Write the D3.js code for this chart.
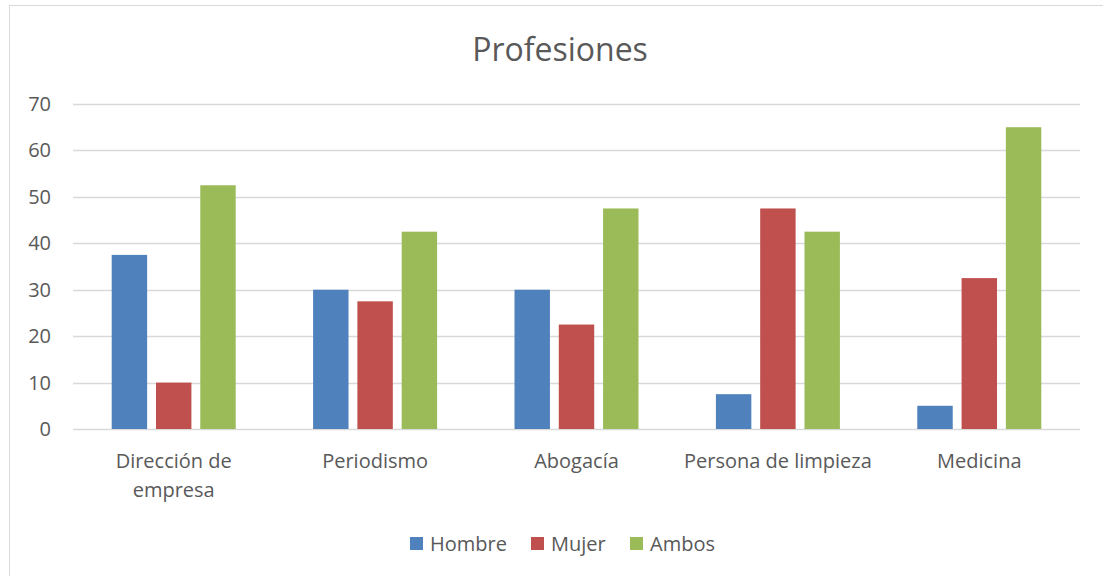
<!DOCTYPE html>
<html>
<head>
<meta charset="utf-8">
<script src="https://cdn.jsdelivr.net/npm/d3@7"></script>
<style>
  body { margin: 0; background: #fff; }
  text { font-family: "Open Sans", "Noto Sans", sans-serif; fill: #595959; }
</style>
</head>
<body>
<script>
// datos
var categorias = [["Dirección de", "empresa"], ["Periodismo"], ["Abogacía"], ["Persona de limpieza"], ["Medicina"]];
var series = ["Hombre", "Mujer", "Ambos"];
var hombre = [37.5, 30, 30, 7.5, 5];
var mujer = [10, 27.5, 22.5, 47.5, 32.5];
var ambos = [52.5, 42.5, 47.5, 42.5, 65];
var yTicks = [0, 10, 20, 30, 40, 50, 60, 70];
var colores = ["#4f81bd", "#c0504d", "#9bbb59"];

var W = 1103, H = 576;
var margin = {left: 73, right: 23, top: 104, bottom: 147};
var fs = "20px";

var svg = d3.select("body").append("svg").attr("width", W).attr("height", H);

// borde del grafico
svg.append("rect").attr("x", 9.5).attr("y", 5.5).attr("width", W).attr("height", H)
  .attr("fill", "none").attr("stroke", "#d9d9d9");

svg.append("text").attr("x", 560).attr("y", 61).attr("text-anchor", "middle")
  .style("font-size", "32px").text("Profesiones");

var idx = d3.range(categorias.length);
var x = d3.scaleBand().domain(idx).range([margin.left, W - margin.right]);
var xs = d3.scaleBand().domain(series).range([x.bandwidth()/2 - 62, x.bandwidth()/2 + 62]).paddingInner(0.2);
var y = d3.scaleLinear().domain([0, 70]).range([H - margin.bottom, margin.top]);

// lineas de grilla
svg.append("g").selectAll("line").data(yTicks).enter().append("line")
  .attr("x1", margin.left).attr("x2", W - margin.right)
  .attr("y1", d => Math.round(y(d)) + 0.5).attr("y2", d => Math.round(y(d)) + 0.5)
  .attr("stroke", "#d9d9d9").attr("stroke-width", 1.3);

svg.append("g").selectAll("text").data(yTicks).enter().append("text")
  .attr("x", 51).attr("y", d => y(d) + 7).attr("text-anchor", "end")
  .style("font-size", fs).text(d => d);

var valores = [hombre, mujer, ambos];
series.forEach(function(s, k) {
  svg.append("g").selectAll("rect").data(valores[k]).enter().append("rect")
    .attr("x", (d, i) => x(i) + xs(s))
    .attr("width", xs.bandwidth())
    .attr("y", d => y(d))
    .attr("height", d => y(0) - y(d))
    .attr("fill", colores[k]);
});

// etiquetas eje x
var lab = svg.append("g").selectAll("text").data(categorias).enter().append("text")
  .attr("x", (d, i) => x(i) + x.bandwidth()/2).attr("y", 468)
  .attr("text-anchor", "middle").style("font-size", fs);
lab.selectAll("tspan").data(d => d).enter().append("tspan")
  .attr("x", function() { return d3.select(this.parentNode).attr("x"); })
  .attr("dy", (d, j) => j === 0 ? 0 : 29).text(d => d);

// leyenda
var legX = [410, 531, 630];
var leg = svg.append("g").selectAll("g").data(series).enter().append("g")
  .attr("transform", (d, i) => "translate(" + legX[i] + ",537)");
leg.append("rect").attr("width", 13).attr("height", 13).attr("fill", (d, i) => colores[i]);
leg.append("text").attr("x", 20).attr("y", 14).style("font-size", fs).text(d => d);
</script>
</body>
</html>
